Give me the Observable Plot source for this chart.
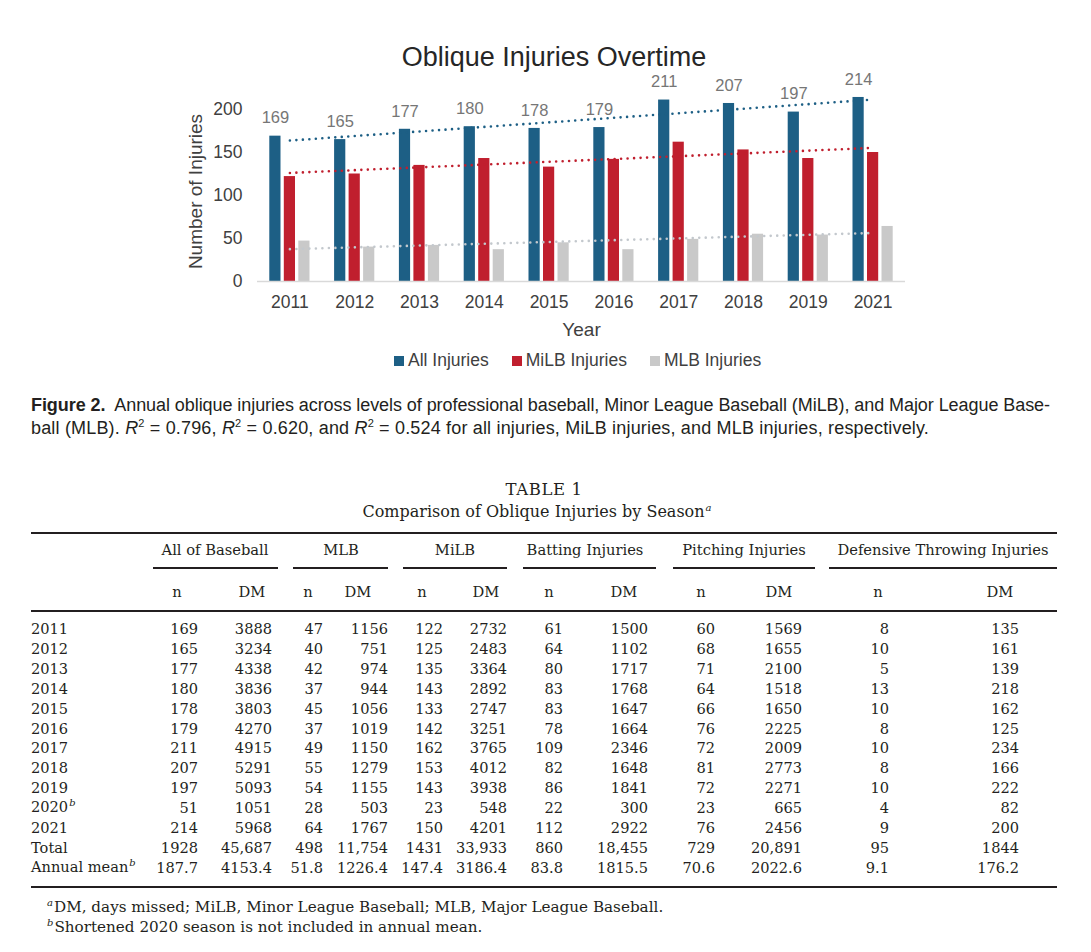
<!DOCTYPE html>
<html>
<head>
<meta charset="utf-8">
<script src="https://cdn.jsdelivr.net/npm/d3@7"></script>
<script src="https://cdn.jsdelivr.net/npm/@observablehq/plot@0.6"></script>
<style>
html,body{margin:0;padding:0;background:#fff;}
body{width:1091px;height:952px;position:relative;overflow:hidden;}
#chart{position:absolute;left:0;top:66px;}
#chart svg{overflow:visible;}
#title{position:absolute;left:554px;top:42px;transform:translateX(-50%);font:27px/30px "Liberation Sans",Arial,sans-serif;color:#262626;white-space:nowrap;}
#legend{position:absolute;left:394px;top:350px;}
#legend .lg-swatches{font-family:"Liberation Sans",Arial,sans-serif !important;font-size:17.5px !important;color:#404040 !important;margin:0 !important;}
#legend .lg-swatches-wrap{min-height:20px !important;flex-wrap:nowrap !important;}
#legend .lg-swatch{margin-right:23px !important;}
#legend .lg-swatch > svg{margin-right:4px !important;}
.cap{position:absolute;left:31px;white-space:nowrap;font:18px/22px "Liberation Sans",Arial,sans-serif;color:#231f20;}
.cap sup{font-size:11px;line-height:0;}
.t{position:absolute;white-space:nowrap;font-family:"DejaVu Serif",serif;font-size:14.6px;line-height:18px;color:#231f20;}
.rule{position:absolute;background:#231f20;}
.sup{font-style:italic;font-size:10px;position:relative;top:-6px;margin-left:1px;}
</style>
</head>
<body>
<div id="chart"></div>
<div id="title">Oblique Injuries Overtime</div>
<div id="legend"></div>
<div class="cap" id="cap1" style="top:394px"><b>Figure 2.</b>&nbsp; Annual oblique injuries across levels of professional baseball, Minor League Baseball (MiLB), and Major League Base-</div>
<div class="cap" id="cap2" style="top:416.5px">ball (MLB). <i>R</i><sup>2</sup> = 0.796, <i>R</i><sup>2</sup> = 0.620, and <i>R</i><sup>2</sup> = 0.524 for all injuries, MiLB injuries, and MLB injuries, respectively.</div>
<script>
// ---------- chart data ----------
const years = ["2011","2012","2013","2014","2015","2016","2017","2018","2019","2021"];
const allInjuries = [169,165,177,180,178,179,211,207,197,214];
const milbInjuries = [122,125,135,143,133,142,162,153,143,150];
const mlbInjuries = [47,40,42,37,45,37,49,55,54,64];
const seriesNames = ["All Injuries","MiLB Injuries","MLB Injuries"];
const yTicks = [0,50,100,150,200];

// ---------- table data ----------
const tableTitle = "TABLE 1";
const tableSubtitle = "Comparison of Oblique Injuries by Season";
const rowLabels = ["2011","2012","2013","2014","2015","2016","2017","2018","2019","2020","2021","Total","Annual mean"];
const rowNotes = ["","","","","","","","","","b","","","b"];
const groupNames = ["All of Baseball","MLB","MiLB","Batting Injuries","Pitching Injuries","Defensive Throwing Injuries"];
const subHeads = ["n","DM"];
const allN  = ["169","165","177","180","178","179","211","207","197","51","214","1928","187.7"];
const allDM = ["3888","3234","4338","3836","3803","4270","4915","5291","5093","1051","5968","45,687","4153.4"];
const mlbN  = ["47","40","42","37","45","37","49","55","54","28","64","498","51.8"];
const mlbDM = ["1156","751","974","944","1056","1019","1150","1279","1155","503","1767","11,754","1226.4"];
const milbN = ["122","125","135","143","133","142","162","153","143","23","150","1431","147.4"];
const milbDM= ["2732","2483","3364","2892","2747","3251","3765","4012","3938","548","4201","33,933","3186.4"];
const batN  = ["61","64","80","83","83","78","109","82","86","22","112","860","83.8"];
const batDM = ["1500","1102","1717","1768","1647","1664","2346","1648","1841","300","2922","18,455","1815.5"];
const pitN  = ["60","68","71","64","66","76","72","81","72","23","76","729","70.6"];
const pitDM = ["1569","1655","2100","1518","1650","2225","2009","2773","2271","665","2456","20,891","2022.6"];
const defN  = ["8","10","5","13","10","8","10","8","10","4","9","95","9.1"];
const defDM = ["135","161","139","218","162","125","234","166","222","82","200","1844","176.2"];
const footnotes = [["a","DM, days missed; MiLB, Minor League Baseball; MLB, Major League Baseball."],["b","Shortened 2020 season is not included in annual mean."]];

// ---------- styles / layout ----------
const seriesColors = ["#1d5f85","#c01f2e","#c9c9c9"];
const trendColors = ["#1d5f85","#c01f2e","#c3c8cd"];
const barOffsets = [-14.5, 0, 14.5];   // px offset of each series bar within a year group
const barWidth = 11.2;

const rows = [];
const seriesValues = [allInjuries, milbInjuries, mlbInjuries];
seriesNames.forEach((s, k) => seriesValues[k].forEach((v, i) => rows.push({i, year: years[i], series: s, value: v})));

const W = 1091, H = 280, mL = 257, mR = 186, mT = 43, mB = 65;
const band = (W - mL - mR) / years.length;
const barMarks = seriesNames.map((s, k) => {
  const left = band / 2 + barOffsets[k] - barWidth / 2;
  return Plot.rectY(rows.filter(d => d.series === s), {
    x1: d => d.i - 0.5, x2: d => d.i + 0.5, y: "value", fill: "series",
    insetLeft: left, insetRight: band - left - barWidth
  });
});

const chart = Plot.plot({
  width: W, height: H,
  marginLeft: mL, marginRight: mR, marginTop: mT, marginBottom: mB,
  style: {fontFamily: "'Liberation Sans', Arial, sans-serif", fontSize: "17.5px", color: "#404040", background: "transparent", overflow: "visible"},
  x: {type: "linear", domain: [-0.5, years.length - 0.5], ticks: years.map((_, i) => i), tickFormat: i => years[i], tickSize: 0, tickPadding: 14, label: null},
  y: {domain: [0, 200], ticks: yTicks, tickSize: 0, tickPadding: 15, label: null},
  color: {domain: seriesNames, range: seriesColors},
  marks: [
    ...barMarks,
    Plot.ruleY([0], {stroke: "#d9d9d9", strokeWidth: 1.5}),
    ...seriesNames.map((s, k) => Plot.linearRegressionY(rows.filter(d => d.series === s), {
      x: "i", y: "value", ci: 0, stroke: trendColors[k], strokeWidth: 2.6,
      strokeDasharray: "0 6.5", strokeLinecap: "round"
    })),
    Plot.text(rows.filter(d => d.series === seriesNames[0]), {
      x: "i", y: "value", text: d => String(d.value), dx: barOffsets[0], dy: -18,
      fontSize: 16.5, fill: "#767676"
    }),
    Plot.text(["Number of Injuries"], {text: d => d, frameAnchor: "left", textAnchor: "middle", lineAnchor: "middle", rotate: -90, dx: -62, dy: -4, fontSize: 19, fill: "#404040"}),
    Plot.text(["Year"], {text: d => d, frameAnchor: "bottom", textAnchor: "middle", lineAnchor: "middle", dy: 48, fontSize: 19, fill: "#404040"})
  ]
});
document.getElementById("chart").appendChild(chart);
document.getElementById("legend").appendChild(chart.legend("color", {swatchSize: 10, className: "lg"}));

// ---------- caption: fit each line to the reference's line length ----------
function fitLine(id, target) {
  const el = document.getElementById(id);
  const w = el.getBoundingClientRect().width;
  const n = el.textContent.length;
  el.style.letterSpacing = ((target - w) / n).toFixed(3) + "px";
}
fitLine("cap1", 1019);
fitLine("cap2", 898);

// ---------- table ----------
function put(html, x, y, anchor, extra) {
  const el = document.createElement("div");
  el.className = "t";
  el.innerHTML = html;
  el.style.left = x + "px";
  el.style.top = y + "px";
  const tx = anchor === "end" ? "-100%" : anchor === "middle" ? "-50%" : "0";
  el.style.transform = `translate(${tx}, -50%)`;
  if (extra) Object.assign(el.style, extra);
  document.body.appendChild(el);
}
function rule(x1, x2, y, h) {
  const el = document.createElement("div");
  el.className = "rule";
  Object.assign(el.style, {left: x1 + "px", width: (x2 - x1) + "px", top: (y - h / 2) + "px", height: h + "px"});
  document.body.appendChild(el);
}
const tLeft = 31, tRight = 1057;
const colRight = [198, 272, 323, 388, 443, 507, 563, 648, 715, 802, 889, 1019];
const headCenter = [177, 252, 308, 358, 422, 486, 549, 624, 701, 779, 878, 1000];
const groupCenter = [215, 341, 455, 585, 744, 943];
const groupLine = [[153, 278], [293, 388], [403, 507], [523, 656], [673, 815], [829, 1057]];
const columns = [allN, allDM, mlbN, mlbDM, milbN, milbDM, batN, batDM, pitN, pitDM, defN, defDM];

put(tableTitle, 544, 490, "middle", {fontSize: "16.5px", letterSpacing: "0.6px"});
put(tableSubtitle + '<span class="sup" style="top:-6px">a</span>', 537, 513, "middle", {fontSize: "16px"});
rule(tLeft, tRight, 533, 2.4);
groupNames.forEach((g, j) => {
  put(g, groupCenter[j], 550, "middle", {fontSize: "14.7px"});
  rule(groupLine[j][0], groupLine[j][1], 568, 2);
});
columns.forEach((c, j) => put(subHeads[j % 2], headCenter[j], 592, "middle", {fontSize: "14.7px"}));
rule(tLeft, tRight, 611, 2.4);
const rowY0 = 629, rowStep = 19.9;
rowLabels.forEach((r, k) => {
  const y = rowY0 + k * rowStep;
  put(r + (rowNotes[k] ? `<span class="sup">${rowNotes[k]}</span>` : ""), tLeft, y, "start");
  columns.forEach((c, j) => put(c[k], colRight[j], y, "end"));
});
rule(tLeft, tRight, 887, 2.4);
footnotes.forEach(([m, txt], k) => put(`<span class="sup" style="margin-left:0;margin-right:1px">${m}</span>${txt}`, 47, 908 + k * 20, "start", {fontSize: "15.2px"}));
</script>
</body>
</html>
